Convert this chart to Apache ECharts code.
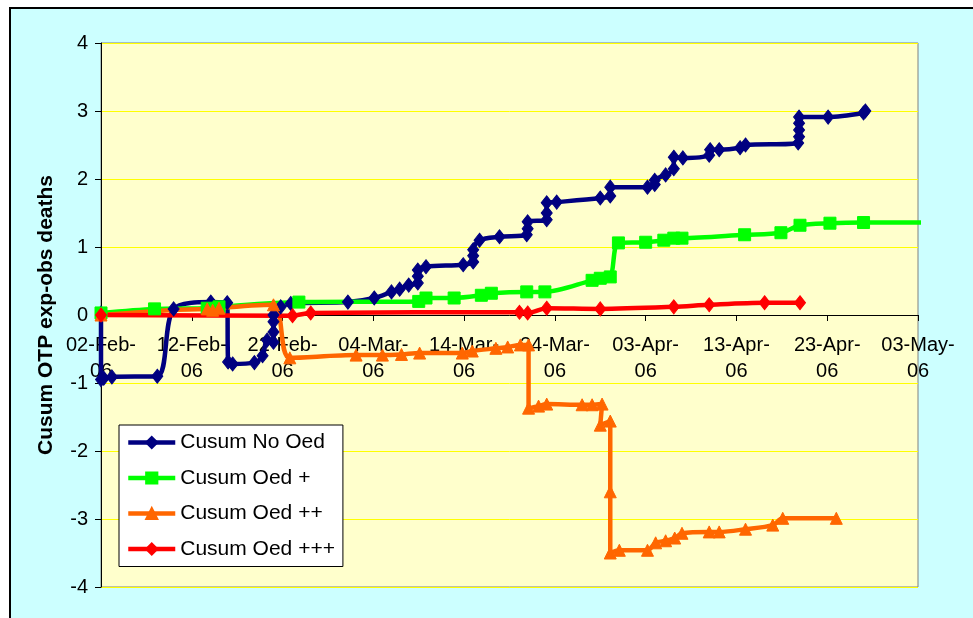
<!DOCTYPE html>
<html>
<head>
<meta charset="utf-8">
<script src="https://cdn.jsdelivr.net/npm/echarts@6/dist/echarts.min.js"></script>
<style>
  html, body { margin: 0; padding: 0; background: #ffffff; }
  #chart { width: 973px; height: 618px; }
</style>
</head>
<body>
<div id="chart"></div>
<script>
// X values are days after 02-Feb-2006; Y values are cumulative expected minus observed deaths.
var startDate = Date.UTC(2006, 1, 2);
var xTickDays = [0, 10, 20, 30, 40, 50, 60, 70, 80, 90];
var yTicks = [-4, -3, -2, -1, 0, 1, 2, 3, 4];

var seriesNames = ['Cusum No Oed', 'Cusum Oed +', 'Cusum Oed ++', 'Cusum Oed +++'];

var noOedDays = [0, 0, 0.3, 1.2, 6.2, 8.0, 12.1, 13.9, 14.0, 14.5, 16.9, 17.8, 18.3, 19.0, 19.0, 19.0, 19.0,
  19.8, 20.9, 27.2, 30.1, 32.0, 32.9, 33.9, 34.9, 34.9, 34.9, 35.8, 39.9, 41.0, 41.0, 41.0, 41.7, 43.9,
  46.9, 47.0, 47.0, 49.1, 49.1, 49.1, 50.2, 55.0, 56.1, 56.1, 60.2, 61.0, 61.0, 62.2, 63.1, 63.1, 64.1,
  67.0, 67.1, 68.1, 70.4, 71.0, 76.8, 76.9, 76.9, 76.9, 76.9, 80.1, 84.0, 84.2];
var noOedVals = [0.03, -0.95, -0.93, -0.91, -0.9, 0.09, 0.19, 0.18, -0.69, -0.72, -0.7, -0.6, -0.37, -0.4, -0.25, -0.1, 0.0,
  0.12, 0.17, 0.19, 0.25, 0.34, 0.38, 0.44, 0.47, 0.57, 0.66, 0.71, 0.74, 0.78, 0.87, 0.96, 1.1, 1.15,
  1.18, 1.27, 1.37, 1.4, 1.5, 1.65, 1.66, 1.72, 1.75, 1.88, 1.88, 1.92, 1.98, 2.06, 2.15, 2.32, 2.31,
  2.35, 2.43, 2.43, 2.46, 2.5, 2.53, 2.62, 2.72, 2.82, 2.91, 2.91, 2.97, 3.0];

var oedPlusDays = [0, 5.9, 11.7, 13.0, 21.8, 35.0, 35.8, 38.9, 41.9, 43.0, 46.9, 48.9, 54.1, 55.0, 56.1,
  57.0, 60.0, 62.0, 63.1, 64.0, 70.9, 74.9, 77.0, 80.3, 84.0, 92.0];
var oedPlusVals = [0.03, 0.09, 0.1, 0.12, 0.19, 0.2, 0.25, 0.25, 0.29, 0.32, 0.34, 0.34, 0.51, 0.54, 0.56,
  1.06, 1.07, 1.1, 1.13, 1.13, 1.18, 1.21, 1.32, 1.35, 1.36, 1.36];

var oedPlus2Days = [0, 11.7, 12.3, 13.0, 19.0, 20.8, 28.1, 31.0, 33.1, 35.1, 39.8, 40.9, 43.5, 44.8, 46.2, 47.1,
  47.1, 48.2, 49.1, 53.0, 54.1, 55.2, 55.0, 56.1, 56.1, 56.1, 57.1, 60.2, 61.1, 62.2, 63.2, 64.0,
  67.0, 68.1, 71.0, 74.0, 75.1, 81.0];
var oedPlus2Vals = [0, 0.09, 0.07, 0.1, 0.15, -0.63, -0.59, -0.59, -0.58, -0.56, -0.56, -0.53, -0.49, -0.47, -0.44, -0.44,
  -1.37, -1.34, -1.31, -1.32, -1.32, -1.31, -1.62, -1.56, -2.6, -3.5, -3.46, -3.46, -3.35, -3.32, -3.28, -3.21,
  -3.19, -3.19, -3.15, -3.09, -2.99, -2.99];

var oedPlus3Days = [0, 21.1, 23.1, 46.1, 47.0, 49.1, 55.0, 63.1, 67.0, 73.1, 77.0];
var oedPlus3Vals = [0, -0.01, 0.03, 0.04, 0.03, 0.1, 0.09, 0.12, 0.15, 0.18, 0.18];

var MONTHS = ['Jan', 'Feb', 'Mar', 'Apr', 'May', 'Jun', 'Jul', 'Aug', 'Sep', 'Oct', 'Nov', 'Dec'];
function dayLabel(d) {
  var dt = new Date(startDate + Math.round(d) * 86400000);
  var dd = ('0' + dt.getUTCDate()).slice(-2);
  var yy = ('' + dt.getUTCFullYear()).slice(-2);
  return dd + '-' + MONTHS[dt.getUTCMonth()] + '-\n' + yy;
}
function pairs(xs, ys) {
  return xs.map(function (x, i) { return [x, ys[i]]; });
}

var FONT = 'Liberation Sans, Arial, sans-serif';

// Plot box geometry
var GRID_TOP = 43, GRID_HEIGHT = 544;
// Pixel offset that lifts the date axis from the plot bottom to the zero line
var ZERO_OFFSET = -GRID_HEIGHT * (0 - yTicks[0]) / (yTicks[yTicks.length - 1] - yTicks[0]);

function lineSeries(name, xs, ys, color, symbol, size) {
  return {
    name: name,
    type: 'line',
    data: pairs(xs, ys),
    smooth: 0.3,
    symbol: symbol,
    symbolSize: size,
    showAllSymbol: true,
    clip: true,
    lineStyle: { color: color, width: 4.5 },
    itemStyle: { color: color, borderColor: color, borderWidth: 1 },
    emphasis: { disabled: true }
  };
}

var chart = echarts.init(document.getElementById('chart'), null, { renderer: 'canvas' });
chart.setOption({
  animation: false,
  backgroundColor: '#ffffff',
  textStyle: { fontFamily: FONT },
  graphic: [{
    type: 'rect',
    z: -100,
    shape: { x: 10, y: 8, width: 1000, height: 700 },
    style: { fill: '#CCFFFF', stroke: '#000000', lineWidth: 2 }
  }],
  grid: {
    left: 101, top: GRID_TOP, width: 817, height: GRID_HEIGHT,
    containLabel: false,
    outerBoundsMode: 'none',
    show: true, backgroundColor: '#FFFFCC', borderColor: '#808080', borderWidth: 1
  },
  legend: {
    orient: 'vertical',
    left: 119, top: 425,
    padding: [7, 8, 7, 7],
    itemGap: 14.5,
    itemWidth: 47,
    itemHeight: 14,
    itemTextGap: 5,
    backgroundColor: '#ffffff',
    borderColor: '#000000',
    borderWidth: 1,
    lineStyle: { width: 4.5 },
    data: seriesNames,
    textStyle: { fontFamily: FONT, fontSize: 21, color: '#000000', lineHeight: 20 }
  },
  xAxis: {
    type: 'value',
    position: 'bottom',
    offset: ZERO_OFFSET,
    min: xTickDays[0],
    max: xTickDays[xTickDays.length - 1],
    interval: 10,
    axisLine: { onZero: false, lineStyle: { color: '#000000', width: 1 } },
    axisTick: { show: true, inside: false, length: 6, lineStyle: { color: '#000000' } },
    splitLine: { show: false },
    axisLabel: {
      formatter: dayLabel,
      fontFamily: FONT, fontSize: 20, color: '#000000',
      lineHeight: 26, margin: 17,
      showMinLabel: true, showMaxLabel: true
    }
  },
  yAxis: {
    type: 'value',
    min: yTicks[0],
    max: yTicks[yTicks.length - 1],
    interval: 1,
    name: 'Cusum OTP exp-obs deaths',
    nameLocation: 'middle',
    nameRotate: 90,
    nameGap: 44,
    nameTextStyle: { fontFamily: FONT, fontSize: 21, fontWeight: 'bold', color: '#000000' },
    axisLine: { show: true, onZero: false, lineStyle: { color: '#000000', width: 1 } },
    axisTick: { show: true, inside: false, length: 6, lineStyle: { color: '#000000' } },
    splitLine: { show: true, lineStyle: { color: '#FFFF00', width: 1 } },
    axisLabel: { fontFamily: FONT, fontSize: 20, color: '#000000', margin: 13 }
  },
  series: [
    lineSeries(seriesNames[0], noOedDays, noOedVals, '#000080', 'diamond', [11, 14]),
    lineSeries(seriesNames[1], oedPlusDays, oedPlusVals, '#00FF00', 'rect', 12),
    lineSeries(seriesNames[2], oedPlus2Days, oedPlus2Vals, '#FF6600', 'triangle', 12),
    lineSeries(seriesNames[3], oedPlus3Days, oedPlus3Vals, '#FF0000', 'diamond', [11, 14])
  ]
});
</script>
</body>
</html>
